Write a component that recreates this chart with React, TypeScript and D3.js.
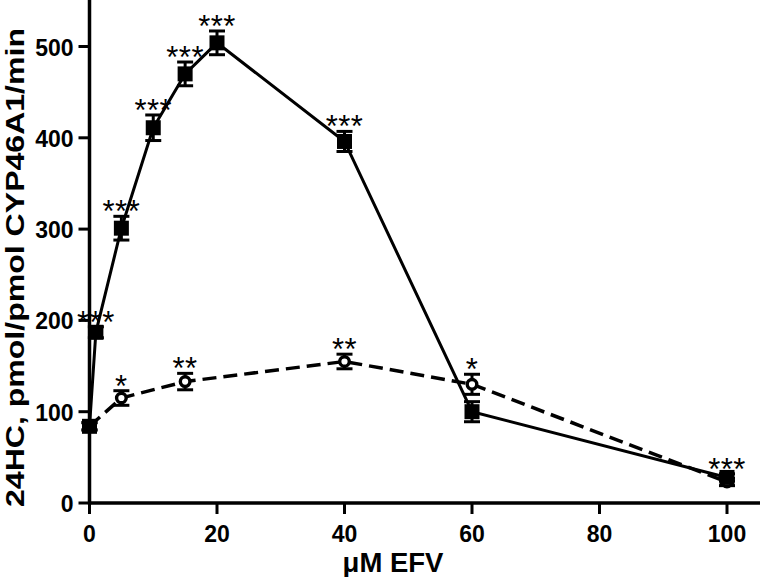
import React from "react";
import * as d3 from "d3";

// EFV concentrations (µM)
const solidX = [0, 1, 5, 10, 15, 20, 40, 60, 100];
const solidMean = [84, 187, 301, 411, 470, 504, 396, 100, 28];
const solidErr = [4, 6, 13, 14, 13, 13, 11, 11, 4];
const solidSig = ["", "***", "***", "***", "***", "***", "***", "", "***"];

const dashX = [0, 5, 15, 40, 60, 100];
const dashMean = [84, 115, 133, 155, 130, 23];
const dashErr = [4, 8, 9, 8, 11, 4];
const dashSig = ["", "*", "**", "**", "*", ""];

const xTicks = [0, 20, 40, 60, 80, 100];
const yTicks = [0, 100, 200, 300, 400, 500];

const W = 760;
const H = 577;
const FONT = "'Liberation Sans', Arial, Helvetica, sans-serif";

export default function App() {
  const x = d3.scaleLinear().domain([0, 100]).range([89.5, 727]);
  const y = d3.scaleLinear().domain([0, 500]).range([503, 46.5]);
  const x0 = x(0);
  const y0 = y(0);

  const line = d3
    .line<[number, number]>()
    .x((d) => x(d[0]))
    .y((d) => y(d[1]));

  const solidPts: [number, number][] = solidX.map((v, i) => [v, solidMean[i]]);
  const dashPts: [number, number][] = dashX.map((v, i) => [v, dashMean[i]]);

  const sq = 15;
  const cap = 8;

  const errBar = (xv: number, m: number, e: number, key: string) => (
    <g key={key} stroke="#000" strokeWidth={3}>
      <line x1={x(xv)} x2={x(xv)} y1={y(m - e)} y2={y(m + e)} />
      <line x1={x(xv) - cap} x2={x(xv) + cap} y1={y(m + e)} y2={y(m + e)} />
      <line x1={x(xv) - cap} x2={x(xv) + cap} y1={y(m - e)} y2={y(m - e)} />
    </g>
  );

  const star = (xv: number, m: number, e: number, s: string, key: string) =>
    s ? (
      <text
        key={key}
        x={x(xv)}
        y={y(m + e) + 6}
        textAnchor="middle"
        fontFamily={FONT}
        fontSize={31}
        letterSpacing={0.5}
        fill="#000"
      >
        {s}
      </text>
    ) : null;

  return (
    <svg
      width={W}
      height={H}
      style={{ position: "absolute", left: 0, top: 0, background: "#fff" }}
    >
      <rect width={W} height={H} fill="#fff" />
      {/* axes */}
      <line x1={x0} x2={x0} y1={0} y2={y0 + 1.5} stroke="#000" strokeWidth={3.5} />
      <line x1={x0 - 1.5} x2={W} y1={y0} y2={y0} stroke="#000" strokeWidth={3.5} />
      {yTicks.map((t) => (
        <g key={"yt" + t}>
          <line x1={x0 - 11} x2={x0} y1={y(t)} y2={y(t)} stroke="#000" strokeWidth={3} />
          <text
            x={x0 - 16}
            y={y(t) + 9}
            textAnchor="end"
            fontFamily={FONT}
            fontWeight="bold"
            fontSize={23}
            fill="#000"
          >
            {t}
          </text>
        </g>
      ))}
      {xTicks.map((t) => (
        <g key={"xt" + t}>
          <line x1={x(t)} x2={x(t)} y1={y0} y2={y0 + 11} stroke="#000" strokeWidth={3} />
          <text
            x={x(t)}
            y={542}
            textAnchor="middle"
            fontFamily={FONT}
            fontWeight="bold"
            fontSize={23}
            fill="#000"
          >
            {t}
          </text>
        </g>
      ))}
      <text
        x={393}
        y={572}
        textAnchor="middle"
        fontFamily={FONT}
        fontWeight="bold"
        fontSize={27.5}
        fill="#000"
      >
        μM EFV
      </text>
      <text
        transform="translate(23.5,267.5) rotate(-90)"
        textAnchor="middle"
        fontFamily={FONT}
        fontWeight="bold"
        fontSize={26}
        textLength={479}
        lengthAdjust="spacingAndGlyphs"
        fill="#000"
      >
        24HC, pmol/pmol CYP46A1/min
      </text>

      {/* lines */}
      <path d={line(dashPts) || ""} fill="none" stroke="#000" strokeWidth={3.5} strokeDasharray="14,7" />
      <path d={line(solidPts) || ""} fill="none" stroke="#000" strokeWidth={3} />

      {/* error bars */}
      {dashX.map((v, i) => errBar(v, dashMean[i], dashErr[i], "de" + i))}
      {solidX.map((v, i) => errBar(v, solidMean[i], solidErr[i], "se" + i))}

      {/* markers */}
      {dashX.map((v, i) => (
        <circle key={"dc" + i} cx={x(v)} cy={y(dashMean[i])} r={4.8} fill="#fff" stroke="#000" strokeWidth={3.4} />
      ))}
      {solidX.map((v, i) => (
        <rect key={"sr" + i} x={x(v) - sq / 2} y={y(solidMean[i]) - sq / 2} width={sq} height={sq} fill="#000" />
      ))}

      {/* significance */}
      {dashX.map((v, i) => star(v, dashMean[i], dashErr[i], dashSig[i], "ds" + i))}
      {solidX.map((v, i) => star(v, solidMean[i], solidErr[i], solidSig[i], "ss" + i))}
    </svg>
  );
}
